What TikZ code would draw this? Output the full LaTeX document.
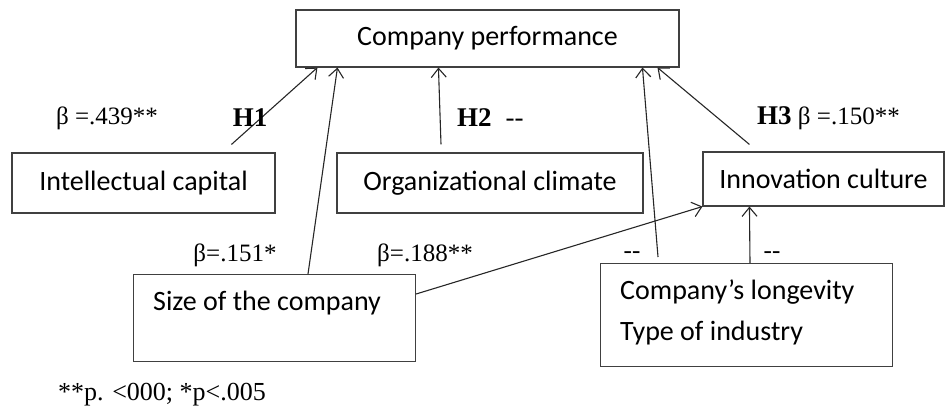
\documentclass[tikz,border=0pt]{standalone}
\usepackage{fontspec}
\setmainfont{Liberation Serif}
\newfontfamily\boxfont{Carlito}
\usetikzlibrary{arrows.meta,calc}

\tikzset{
  box/.style={draw=black!75, line width=1.1pt, inner sep=0pt, font=\boxfont\fontsize{28}{41}\selectfont},
  boxtext/.style={inner sep=0pt, font=\boxfont\fontsize{28}{41}\selectfont},
  lab/.style={inner sep=0pt, font=\fontsize{25}{30}\selectfont},
  hyp/.style={inner sep=0pt, font=\bfseries\fontsize{27}{30}\selectfont},
  arr/.style={line width=1.1pt, black!85, -{Straight Barb[length=9pt,width=15pt]}}
}

\begin{document}
\begin{tikzpicture}[x=1pt,y=-1pt]
\useasboundingbox (0,0) rectangle (949,412);
% boxes
\node[box, minimum width=383, minimum height=57] (perf) at (487.5,38.5) {Company performance};
\node[box, minimum width=263, minimum height=60] (intel) at (143.5,183) {Intellectual capital};
\node[box, minimum width=306, minimum height=60] (climate) at (490,183) {Organizational climate};
\node[box, minimum width=241, minimum height=54] (innov) at (823.5,179) {Innovation culture};
\node[box, minimum width=282, minimum height=87, anchor=north west] (size) at (133,274) {};
\node[boxtext, anchor=west] (sizetxt) at (153,303) {Size of the company};
\node[box, minimum width=292, minimum height=103, anchor=north west] (ctrl) at (600,263) {};
\node[boxtext, anchor=north west, align=left] (ctrltxt) at (620,280) {Company’s longevity\\Type of industry};
%
% paths
\draw[arr] ($(intel.north west)+(220,-8)$) -- ($(perf.south west)+(22,0)$);
\draw[arr] ($(size.north west)+(175,0)$) -- ($(perf.south west)+(42,0)$);
\draw[arr] ($(climate.north)+(-49,-8)$) -- ($(perf.south west)+(143,0)$);
\draw[arr] ($(ctrl.north west)+(58,-6)$) -- ($(perf.south west)+(347,0)$);
\draw[arr] ($(innov.north west)+(47,-7)$) -- ($(perf.south west)+(362,0)$);
\draw[arr] ($(size.north east)+(0,20)$) -- (innov.south west);
\draw[arr] ($(ctrl.north west)+(150,0)$) -- ($(innov.south west)+(47,0)$);
%
% labels
\node[lab] (b1) at (107,118) {β =.439**};
\node[hyp] (h1) at (250,118) {H1};
\node[hyp, anchor=west] (h2) at (457,118) {H2\hspace{14pt}\mdseries -{}-};
\node[lab, anchor=west] (h3) at (757,118) {\textbf{\fontsize{27}{30}\selectfont H3} β =.150**};
\node[lab] (b2) at (235,255) {β=.151*};
\node[lab] (b3) at (425,255) {β=.188**};
\node[lab] (d1) at (632,255) {-{}-};
\node[lab] (d2) at (772,255) {-{}-};
\node[lab, font=\fontsize{26}{30}\selectfont] (note) at (162,395) {**p. <000; *p<.005};
\end{tikzpicture}
\end{document}
